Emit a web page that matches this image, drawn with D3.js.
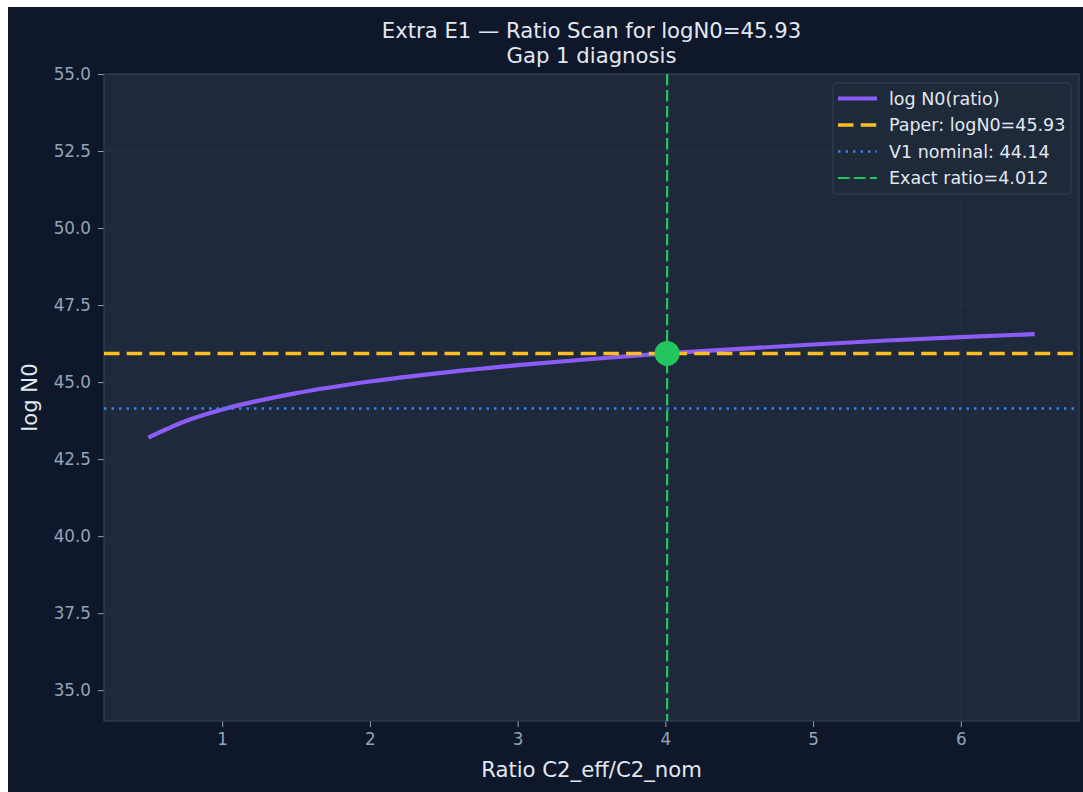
<!DOCTYPE html>
<html>
<head>
<meta charset="utf-8">
<script src="https://cdn.jsdelivr.net/npm/d3@7"></script>
<style>
  body { margin: 0; background: #fff; }
  text { font-family: "DejaVu Sans", sans-serif; }
</style>
</head>
<body>
<div id="chart-area"></div>
<script>
// scan values
var ratios = [0.5, 0.75, 1.0, 1.5, 2.0, 2.5, 3.0, 3.5, 4.0, 4.5, 5.0, 5.5, 6.0, 6.5];
var logN0s = [43.20, 43.73, 44.11, 44.64, 45.02, 45.31, 45.55, 45.75, 45.93, 46.08, 46.22, 46.35, 46.46, 46.56];

var paperLogN0 = 45.93;
var v1Nominal = 44.14;
var exactRatio = 4.012;

var xTicks = [1, 2, 3, 4, 5, 6];
var yTicks = [35.0, 37.5, 40.0, 42.5, 45.0, 47.5, 50.0, 52.5, 55.0];

var legendLabels = ['log N0(ratio)', 'Paper: logN0=45.93', 'V1 nominal: 44.14', 'Exact ratio=4.012'];

var margin = { top: 74, right: 2, bottom: 71, left: 104 },
  width = 1083 - margin.left - margin.right,
  height = 792 - margin.top - margin.bottom;

var svg = d3.select('#chart-area')
  .append('svg')
    .attr('width', 1083)
    .attr('height', 792);

// page background with the white strip at top/left
svg.append('rect').attr('width', 1083).attr('height', 792).attr('fill', '#ffffff');
svg.append('rect').attr('x', 8).attr('y', 7).attr('width', 1075).attr('height', 785).attr('fill', '#0f172a');

var g = svg.append('g')
  .attr('transform', 'translate(' + margin.left + ', ' + margin.top + ')');

var xScale = d3.scaleLinear().domain([0.2, 6.8]).range([0, width - 2]);
var yScale = d3.scaleLinear().domain([34, 55]).range([height, 0]);

g.append('rect')
  .attr('width', width - 2)
  .attr('height', height)
  .attr('fill', '#1e293b');

// faint grid
g.selectAll('.vgrid').data(xTicks).enter()
  .append('line')
    .attr('x1', d => xScale(d)).attr('x2', d => xScale(d))
    .attr('y1', 0).attr('y2', height)
    .attr('stroke', '#334155').attr('stroke-opacity', 0.4).attr('stroke-width', 0.8);
g.selectAll('.hgrid').data(yTicks).enter()
  .append('line')
    .attr('y1', d => yScale(d)).attr('y2', d => yScale(d))
    .attr('x1', 0).attr('x2', width - 2)
    .attr('stroke', '#334155').attr('stroke-opacity', 0.4).attr('stroke-width', 0.8);

// axes
var xAxisGroup = g.append('g')
  .attr('transform', 'translate(0, ' + height + ')')
  .call(d3.axisBottom(xScale).tickValues(xTicks).tickFormat(d3.format('d')).tickSize(6).tickPadding(6));
var yAxisGroup = g.append('g')
  .call(d3.axisLeft(yScale).tickValues(yTicks).tickFormat(d3.format('.1f')).tickSize(6).tickPadding(7));

[xAxisGroup, yAxisGroup].forEach(ax => {
  ax.select('.domain').remove();
  ax.selectAll('.tick line').attr('stroke', '#94a3b8').attr('stroke-width', 1);
  ax.selectAll('.tick text')
    .attr('fill', '#94a3b8')
    .attr('font-size', '16.8px')
    .attr('font-family', 'DejaVu Sans, sans-serif');
});

// spines
g.append('rect')
  .attr('width', width - 2)
  .attr('height', height)
  .attr('fill', 'none')
  .attr('stroke', '#334155')
  .attr('stroke-width', 1.2);

g.append('clipPath').attr('id', 'plot-clip')
  .append('rect').attr('width', width - 2).attr('height', height);
var plot = g.append('g').attr('clip-path', 'url(#plot-clip)');

var line = d3.line()
  .x((d, i) => xScale(ratios[i]))
  .y(d => yScale(d))
  .curve(d3.curveMonotoneX);

plot.append('path')
  .datum(logN0s)
  .attr('d', line)
  .attr('fill', 'none')
  .attr('stroke', '#8b5cf6')
  .attr('stroke-width', 4.2);

plot.append('line')
  .attr('x1', 0).attr('x2', width)
  .attr('y1', yScale(paperLogN0)).attr('y2', yScale(paperLogN0))
  .attr('stroke', '#fbbf24').attr('stroke-width', 3.5)
  .attr('stroke-dasharray', '15.5,7.2');

plot.append('line')
  .attr('x1', 0).attr('x2', width)
  .attr('y1', yScale(v1Nominal)).attr('y2', yScale(v1Nominal))
  .attr('stroke', '#3b82f6').attr('stroke-width', 2.5)
  .attr('stroke-dasharray', '2.5,5');

plot.append('line')
  .attr('x1', xScale(exactRatio)).attr('x2', xScale(exactRatio))
  .attr('y1', 0).attr('y2', height)
  .attr('stroke', '#22c55e').attr('stroke-width', 2.2)
  .attr('stroke-dasharray', '11.5,4.5');

plot.append('circle')
  .attr('cx', xScale(exactRatio))
  .attr('cy', yScale(paperLogN0))
  .attr('r', 12.5)
  .attr('fill', '#22c55e');

// titles and labels
var cx = margin.left + (width - 2) / 2;
var title = svg.append('text')
  .attr('text-anchor', 'middle')
  .attr('fill', '#e2e8f0')
  .attr('font-size', '21.2px');
title.append('tspan').attr('x', cx).attr('y', 38).text('Extra E1 \u2014 Ratio Scan for logN0=45.93');
title.append('tspan').attr('x', cx).attr('y', 63).text('Gap 1 diagnosis');

svg.append('text')
  .attr('x', cx)
  .attr('y', 777)
  .attr('text-anchor', 'middle')
  .attr('fill', '#e2e8f0')
  .attr('font-size', '21.2px')
  .text('Ratio C2_eff/C2_nom');

svg.append('text')
  .attr('transform', 'translate(37, ' + (margin.top + height / 2) + ') rotate(-90)')
  .attr('text-anchor', 'middle')
  .attr('fill', '#e2e8f0')
  .attr('font-size', '21.2px')
  .text('log N0');

// legend
var legend = svg.append('g').attr('transform', 'translate(833, 83)');
legend.append('rect')
  .attr('width', 238).attr('height', 111)
  .attr('rx', 4)
  .attr('fill', '#1e293b').attr('fill-opacity', 0.9)
  .attr('stroke', '#334155').attr('stroke-width', 1);

var legendStyles = [
  { color: '#8b5cf6', w: 4.2, dash: null },
  { color: '#fbbf24', w: 3.5, dash: '15.5,7.2' },
  { color: '#3b82f6', w: 2.5, dash: '2.5,5' },
  { color: '#22c55e', w: 2.2, dash: '11.5,4.5' }
];

legendLabels.forEach((label, i) => {
  var yy = 15.5 + i * 26.5;
  legend.append('line')
    .attr('x1', 5).attr('x2', 44)
    .attr('y1', yy).attr('y2', yy)
    .attr('stroke', legendStyles[i].color)
    .attr('stroke-width', legendStyles[i].w)
    .attr('stroke-dasharray', legendStyles[i].dash);
  legend.append('text')
    .attr('x', 56).attr('y', yy + 6)
    .attr('fill', '#e2e8f0')
    .attr('font-size', '17.5px')
    .text(label);
});
</script>
</body>
</html>
